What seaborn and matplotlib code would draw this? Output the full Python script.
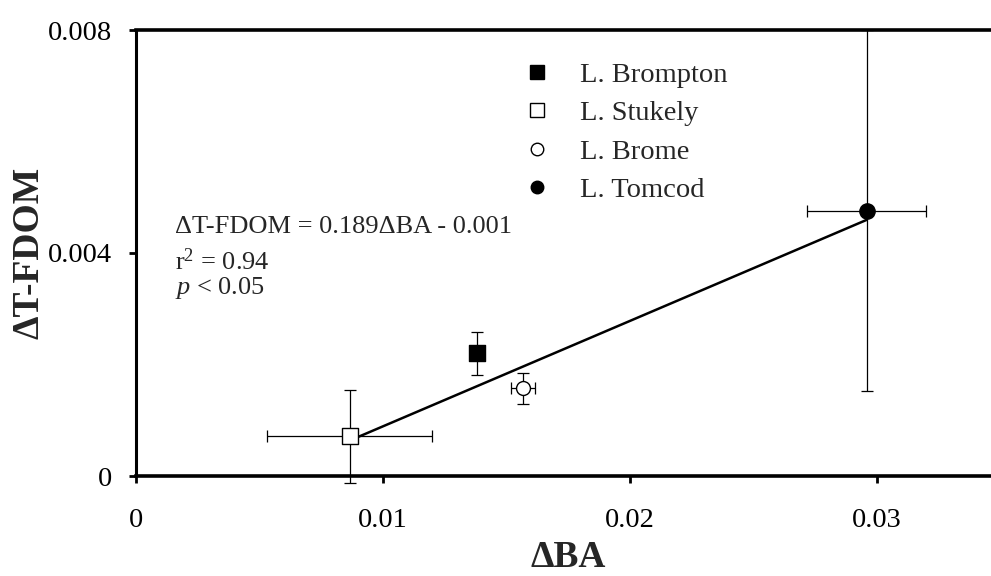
import numpy as np
import pandas as pd
import matplotlib
matplotlib.use("Agg")
import matplotlib.pyplot as plt
import seaborn as sns

# Lake means with standard deviations
lakes = ["L. Brompton", "L. Stukely", "L. Brome", "L. Tomcod"]
delta_ba = [0.0138, 0.00866, 0.01568, 0.0296]
delta_ba_err = [0.0, 0.00334, 0.00050, 0.00241]
delta_tfdom = [0.0022, 0.00071, 0.00157, 0.00476]
delta_tfdom_err = [0.00038, 0.00083, 0.00028, 0.00324]

# Regression fit reported on the plot
slope = 0.189
intercept = -0.001

x_ticks = [0, 0.01, 0.02, 0.03]
x_tick_labels = ["0", "0.01", "0.02", "0.03"]
y_ticks = [0, 0.004, 0.008]
y_tick_labels = ["0", "0.004", "0.008"]

df = pd.DataFrame({
    "lake": lakes,
    "dba": delta_ba,
    "dba_err": delta_ba_err,
    "dtfdom": delta_tfdom,
    "dtfdom_err": delta_tfdom_err,
})

sns.set_theme(style="white")
plt.rcParams["font.family"] = ["Liberation Serif", "DejaVu Serif"]
plt.rcParams["mathtext.fontset"] = "custom"
plt.rcParams["mathtext.rm"] = "Liberation Serif"
plt.rcParams["mathtext.it"] = "Liberation Serif:italic"

W, H = 991, 576
fig = plt.figure(figsize=(W / 100, H / 100), dpi=100)
ax = fig.add_axes([136 / W, (H - 476) / H, (1000 - 136) / W, (476 - 30) / H])

# Error bars
for _, r in df.iterrows():
    ax.errorbar(r["dba"], r["dtfdom"],
                xerr=r["dba_err"] if r["dba_err"] > 0 else None,
                yerr=r["dtfdom_err"],
                fmt="none", ecolor="black", elinewidth=0.9,
                capsize=4, capthick=0.9, zorder=2, clip_on=False)

# Regression line between the extreme lakes
x_line = np.array([min(delta_ba), max(delta_ba)])
line_df = pd.DataFrame({"x": x_line, "y": slope * x_line + intercept})
sns.lineplot(data=line_df, x="x", y="y", color="black", linewidth=1.8,
             ax=ax, zorder=3, legend=False)

markers = {"L. Brompton": "s", "L. Stukely": "s", "L. Brome": "o", "L. Tomcod": "o"}
faces = {"L. Brompton": "black", "L. Stukely": "white", "L. Brome": "white", "L. Tomcod": "black"}
sizes = {"L. Brompton": 11, "L. Stukely": 11, "L. Brome": 10, "L. Tomcod": 11}

handles = []
for lake in lakes:
    sub = df[df["lake"] == lake]
    sns.scatterplot(data=sub, x="dba", y="dtfdom", marker=markers[lake],
                    s=sizes[lake] ** 2, color=faces[lake], edgecolor="black",
                    linewidth=1.0, ax=ax, zorder=4, legend=False)
    handles.append(plt.Line2D([], [], linestyle="none", marker=markers[lake],
                              markersize=9.5 if markers[lake] == "s" else 9,
                              markerfacecolor=faces[lake], markeredgecolor="black",
                              markeredgewidth=1.0, label=lake))

leg = ax.legend(handles=handles, loc="upper left", frameon=False,
                bbox_to_anchor=(506 / W, 1 - 48 / H), bbox_transform=fig.transFigure,
                fontsize=20.5, handlelength=1.2, handletextpad=0.9,
                labelspacing=0.43, borderpad=0)

# Regression statistics
ax.text(175 / W, 1 - 233 / H, "ΔT-FDOM = 0.189ΔBA - 0.001", transform=fig.transFigure,
        fontsize=19, va="baseline", ha="left")
ax.text(175 / W, 1 - 270 / H, "r$^{2}$ = 0.94", transform=fig.transFigure,
        fontsize=19, va="baseline", ha="left")
ax.text(175 / W, 1 - 294 / H, "$p$ < 0.05", transform=fig.transFigure,
        fontsize=19, va="baseline", ha="left")

ax.set_xlim(0, 0.035)
ax.set_ylim(0, 0.008)
ax.set_xticks(x_ticks)
ax.set_xticklabels(x_tick_labels)
ax.set_yticks(y_ticks)
ax.set_yticklabels(y_tick_labels)
ax.tick_params(axis="both", direction="out", length=5, width=2, colors="black",
               labelsize=20.5, bottom=True, left=True)
ax.tick_params(axis="x", pad=18)
ax.tick_params(axis="y", pad=12)

for side in ["left", "bottom", "top"]:
    ax.spines[side].set_visible(True)
    ax.spines[side].set_color("black")
ax.spines["left"].set_linewidth(2.2)
ax.spines["bottom"].set_linewidth(2.6)
ax.spines["top"].set_linewidth(2.6)
ax.spines["right"].set_visible(False)

ax.set_xlabel("ΔBA", fontsize=27, fontweight="bold", labelpad=5)
ax.set_ylabel("ΔT-FDOM", fontsize=27, fontweight="bold", labelpad=1)
ax.grid(False)

fig.savefig("out.png", dpi=100)
